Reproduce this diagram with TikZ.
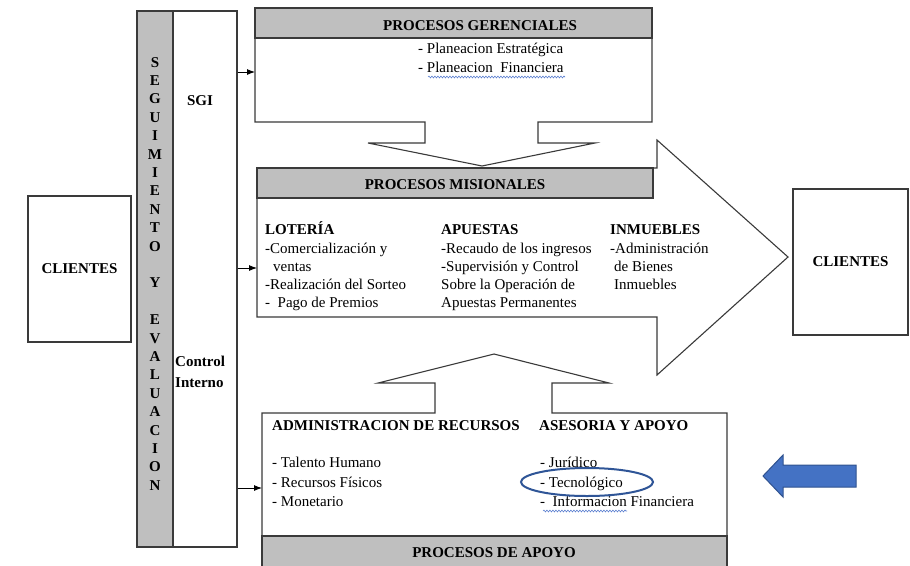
\documentclass[tikz,border=0pt]{standalone}
\usepackage{fontspec}
\setmainfont{Liberation Serif}
\usetikzlibrary{arrows.meta,decorations.pathmorphing}
\definecolor{hdrgray}{HTML}{BFBFBF}
\definecolor{edge}{HTML}{3A3A3A}
\definecolor{bluefill}{HTML}{4472C4}
\definecolor{blueedge}{HTML}{2F528F}
\definecolor{ovalblue}{HTML}{2F5597}
\definecolor{squig}{HTML}{5B7FD0}
\begin{document}
\begin{tikzpicture}[x=1pt,y=-1pt,
  every node/.style={inner sep=0pt, font=\fontsize{15}{18.4}\selectfont},
  shapeline/.style={draw=edge, line width=1.1pt, fill=white, line join=miter},
  hdr/.style={draw=edge, line width=1.1pt, fill=hdrgray},
  txt/.style={anchor=base west},
  bold/.style={font=\fontsize{15}{18.4}\selectfont\bfseries},
  ttl/.style={anchor=base, bold},
  cbox/.style={draw=edge, line width=1.1pt, fill=white, minimum width=#1},
  conn/.style={-{Latex[length=8pt,width=6pt]}, line width=0.9pt, draw=black},
  squiggle/.style={draw=squig, line width=0.6pt, decorate, decoration={snake, amplitude=0.9pt, segment length=3pt}}
]
\useasboundingbox (0,0) rectangle (910,565);

% clients
\node[cbox=103pt, minimum height=146pt, bold] (cliL) at (79.5,269) {CLIENTES};
\node[cbox=115pt, minimum height=146pt, bold] (cliR) at (850.5,262) {CLIENTES};

% left column
\node[draw=edge, line width=1.1pt, fill=hdrgray, minimum width=36pt, minimum height=536pt] (colg) at (155,279) {};
\node[draw=edge, line width=1.1pt, fill=white, minimum width=64pt, minimum height=536pt] (colw) at (205,279) {};
\foreach \l/\k in {S/0,E/1,G/2,U/3,I/4,M/5,I/6,E/7,N/8,T/9,O/10,Y/12,E/14,V/15,A/16,L/17,U/18,A/19,C/20,I/21,O/22,N/23}
  \node[ttl] (v\k) at (155,67+\k*18.4) {\l};
\node[ttl] (sgi) at (200,105) {SGI};
\node[txt, bold] (ci1) at (175,366) {Control};
\node[txt, bold] (ci2) at (175,387) {Interno};

% procesos gerenciales
\draw[shapeline] (255,8) -- (652,8) -- (652,122) -- (538,122) -- (538,143) -- (595,143)
  -- (482,166) -- (368,143) -- (425,143) -- (425,122) -- (255,122) -- cycle;
\draw[hdr] (255,8) rectangle (652,38);
\node[ttl] (gerT) at (480,30) {PROCESOS GERENCIALES};
\node[txt] (g1) at (418,53) {- Planeacion Estratégica};
\node[txt] (g2) at (418,72) {- Planeacion\ \ Financiera};
\draw[squiggle] (428,77) -- (565,77);

% procesos misionales
\draw[shapeline] (257,168) -- (657,168) -- (657,140) -- (788,257) -- (657,375)
  -- (657,317) -- (257,317) -- cycle;
\draw[hdr] (257,168) rectangle (653,198);
\node[ttl] (misT) at (455,189) {PROCESOS MISIONALES};
\node[txt, bold] (l0) at (265,234) {LOTERÍA};
\node[txt] (l1) at (265,253) {-Comercialización y};
\node[txt] (l2) at (273,271) {ventas};
\node[txt] (l3) at (265,289) {-Realización del Sorteo};
\node[txt] (l4) at (265,307) {-\ \ Pago de Premios};
\node[txt, bold] (a0) at (441,234) {APUESTAS};
\node[txt] (a1) at (441,253) {-Recaudo de los ingresos};
\node[txt] (a2) at (441,271) {-Supervisión y Control};
\node[txt] (a3) at (441,289) {Sobre la Operación de};
\node[txt] (a4) at (441,307) {Apuestas Permanentes};
\node[txt, bold] (i0) at (610,234) {INMUEBLES};
\node[txt] (i1) at (610,253) {-Administración};
\node[txt] (i2) at (614,271) {de Bienes};
\node[txt] (i3) at (614,289) {Inmuebles};

% procesos de apoyo
\draw[shapeline] (262,570) -- (262,413) -- (435,413) -- (435,383) -- (378,383) -- (494,354)
  -- (609,383) -- (552,383) -- (552,413) -- (727,413) -- (727,570) -- cycle;
\draw[hdr] (262,536) rectangle (727,570);
\node[ttl] (apoT) at (494,557) {PROCESOS DE APOYO};
\node[txt, bold] (r0) at (272,430) {ADMINISTRACION DE RECURSOS};
\node[txt, bold] (s0) at (539,430) {ASESORIA Y APOYO};
\node[txt] (r1) at (272,467) {- Talento Humano};
\node[txt] (r2) at (272,487) {- Recursos Físicos};
\node[txt] (r3) at (272,506) {- Monetario};
\node[txt] (s1) at (540,467) {- Jurídico};
\node[txt] (s2) at (540,487) {- Tecnológico};
\node[txt] (s3) at (540,506) {-\ \ Informacion Financiera};
\draw[squiggle] (543,511) -- (627,511);
\draw[ovalblue, line width=2pt] (587,482) ellipse [x radius=66pt, y radius=14pt];

% connectors from the column
\coordinate (gerIn) at (255,72);
\coordinate (misIn) at (257,268);
\coordinate (apoIn) at (262,488);
\draw[conn] (colw.east |- gerIn) -- (gerIn);
\draw[conn] (colw.east |- misIn) -- (misIn);
\draw[conn] (colw.east |- apoIn) -- (apoIn);

% blue arrow
\draw[fill=bluefill, draw=blueedge, line width=1pt, line join=miter]
  (763,476) -- (783,455) -- (783,465) -- (856,465) -- (856,487) -- (783,487) -- (783,497) -- cycle;
\end{tikzpicture}
\end{document}
